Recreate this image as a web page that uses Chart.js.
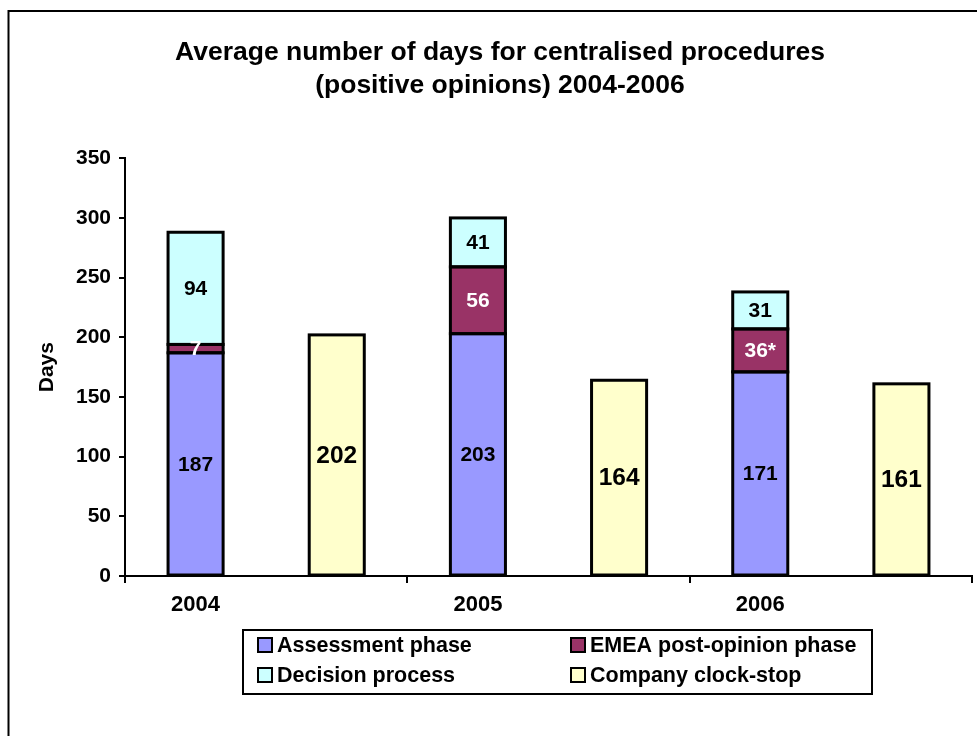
<html>

<head>
    <title>Average number of days for centralised procedures</title>
    <meta charset="utf-8">
    <script src="https://cdn.jsdelivr.net/npm/chart.js@4.4.1/dist/chart.umd.min.js"></script>
    <style>
        body { margin: 0; background: #fff; }
        #chart { display: block; }
    </style>
</head>

<body>
    <canvas id="chart" width="977" height="736"></canvas>

    <script>
        // 6 slots: each year has the phase stack and then the clock-stop bar
        const categories = ['2004', '', '2005', '', '2006', ''];
        const assessment = [187, null, 203, null, 171, null];
        const emeaPostOpinion = [7, null, 56, null, 36, null];
        const decision = [94, null, 41, null, 31, null];
        const clockStop = [null, 202, null, 164, null, 161];
        const emeaNotes = ['', '', '', '', '*', '']; // 2006 value is footnoted
        const yTicks = [0, 50, 100, 150, 200, 250, 300, 350];

        const FONT = '"Liberation Sans", Arial, sans-serif';

        /* frame round the whole picture (only left and top are visible) */
        const framePlugin = {
            id: 'frame',
            beforeDraw(chart) {
                const ctx = chart.ctx;
                ctx.save();
                ctx.fillStyle = '#fff';
                ctx.fillRect(0, 0, chart.width, chart.height);
                ctx.strokeStyle = '#000';
                ctx.lineWidth = 2;
                ctx.strokeRect(8.5, 11, chart.width + 20, chart.height + 20);
                ctx.restore();
            }
        };

        /* outlines of the segments + numbers written inside them */
        const valueLabelPlugin = {
            id: 'valueLabels',
            afterDatasetsDraw(chart) {
                const ctx = chart.ctx;
                ctx.save();
                // one stroke per segment: shared edges get a single divider,
                // no antialias seam between stacked fills
                ctx.strokeStyle = '#000';
                ctx.lineWidth = 3;
                chart.data.datasets.forEach(function (ds, di) {
                    chart.getDatasetMeta(di).data.forEach(function (el, i) {
                        if (ds.data[i] === null) {
                            return;
                        }
                        const w = el.width;
                        ctx.strokeRect(el.x - w / 2, el.y, w, el.base - el.y);
                    });
                });

                ctx.textAlign = 'center';
                ctx.textBaseline = 'middle';
                chart.data.datasets.forEach(function (ds, di) {
                    const meta = chart.getDatasetMeta(di);
                    meta.data.forEach(function (el, i) {
                        const v = ds.data[i];
                        if (v === null || v === undefined) {
                            return;
                        }
                        let text = String(v);
                        if (ds.notes) {
                            text += ds.notes[i];
                        }
                        ctx.font = 'bold ' + ds.labelSize + 'px ' + FONT;
                        ctx.fillStyle = ds.labelColor;
                        ctx.fillText(text, el.x, (el.y + el.base) / 2 + 1);
                    });
                });
                ctx.restore();
            }
        };

        /* boxed legend, 2 columns x 2 rows */
        const boxLegendPlugin = {
            id: 'boxLegend',
            afterDraw(chart) {
                const ctx = chart.ctx;
                const box = { left: 243, top: 630, right: 872, bottom: 694 };
                const cols = [258, 571];
                const rows = [645, 675];
                ctx.save();
                ctx.strokeStyle = '#000';
                ctx.lineWidth = 2;
                ctx.strokeRect(box.left, box.top, box.right - box.left, box.bottom - box.top);
                ctx.font = 'bold 21.5px ' + FONT;
                ctx.textBaseline = 'middle';
                ctx.textAlign = 'left';
                chart.data.datasets.forEach(function (ds, i) {
                    const x = cols[i % 2];
                    const y = rows[Math.floor(i / 2)];
                    ctx.fillStyle = ds.backgroundColor;
                    ctx.fillRect(x, y - 7, 14, 14);
                    ctx.lineWidth = 2;
                    ctx.strokeRect(x, y - 7, 14, 14);
                    ctx.fillStyle = '#000';
                    ctx.fillText(ds.label, x + 19, y + 1);
                });
                ctx.restore();
            }
        };

        function makeSet(label, data, color, labelColor, labelSize) {
            return {
                label: label,
                data: data,
                backgroundColor: color,
                borderWidth: 0,
                labelColor: labelColor,
                labelSize: labelSize
            };
        }

        const datasets = [
            makeSet('Assessment phase', assessment, '#9999FF', '#000', 21),
            makeSet('EMEA post-opinion phase', emeaPostOpinion, '#993366', '#fff', 21),
            makeSet('Decision process', decision, '#CCFFFF', '#000', 21),
            makeSet('Company clock-stop', clockStop, '#FFFFCC', '#000', 24.5)
        ];
        datasets[1].notes = emeaNotes;

        const canvas = document.getElementById('chart');
        const gChart = new Chart(canvas, {
            type: 'bar',
            data: {
                labels: categories,
                datasets: datasets
            },
            plugins: [framePlugin, valueLabelPlugin, boxLegendPlugin],
            options: {
                responsive: false,
                animation: false,
                categoryPercentage: 1.0,
                barPercentage: 0.39,
                layout: {
                    padding: { left: 28, right: 5, top: 0, bottom: 115 }
                },
                plugins: {
                    legend: { display: false },
                    tooltip: { enabled: false },
                    title: {
                        display: true,
                        text: ['Average number of days for centralised procedures',
                            '(positive opinions) 2004-2006'],
                        color: '#000',
                        font: { family: FONT, size: 26.5, weight: 'bold', lineHeight: 1.25 },
                        padding: { top: 36, bottom: 56 }
                    }
                },
                scales: {
                    x: {
                        stacked: true,
                        offset: true,
                        border: { color: '#000', width: 2 },
                        grid: {
                            offset: true,
                            drawOnChartArea: false,
                            tickLength: 7,
                            lineWidth: 2,
                            // tick mark only between year groups
                            color: function (c) {
                                return (c.index === undefined || c.index % 2 === 0) ? '#000' : 'rgba(0,0,0,0)';
                            }
                        },
                        ticks: {
                            color: '#000',
                            autoSkip: false,
                            maxRotation: 0,
                            padding: 9,
                            font: { family: FONT, size: 22, weight: 'bold' }
                        },
                        afterFit: function (s) { s.height = 45; }
                    },
                    y: {
                        stacked: true,
                        min: 0,
                        max: 350,
                        afterBuildTicks: function (s) {
                            s.ticks = yTicks.map(function (v) { return { value: v }; });
                        },
                        border: { color: '#000', width: 2 },
                        grid: {
                            drawOnChartArea: false,
                            tickLength: 6,
                            lineWidth: 2,
                            color: '#000'
                        },
                        ticks: {
                            color: '#000',
                            padding: 8,
                            font: { family: FONT, size: 21, weight: 'bold' }
                        },
                        title: {
                            display: true,
                            text: 'Days',
                            color: '#000',
                            padding: { top: 7, bottom: 0 },
                            font: { family: FONT, size: 21, weight: 'bold' }
                        },
                        afterFit: function (s) { s.width = 97; }
                    }
                }
            }
        });
    </script>
</body>

</html>
